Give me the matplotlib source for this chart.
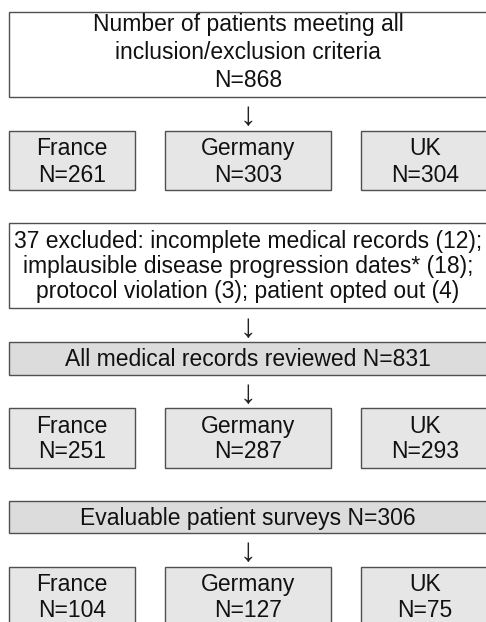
import matplotlib
matplotlib.use("Agg")
import matplotlib.pyplot as plt
from matplotlib.patches import Rectangle

plt.rcParams['font.family'] = ['Liberation Sans', 'DejaVu Sans']

countries = ["France", "Germany", "UK"]
n_screened = [261, 303, 304]
n_reviewed = [251, 287, 293]
n_surveys = [104, 127, 75]
total_included = 868
total_reviewed = 831
total_surveys = 306
top_lines = ["Number of patients meeting all", "inclusion/exclusion criteria", f"N={total_included}"]
excl_lines = ["37 excluded: incomplete medical records (12);",
              "implausible disease progression dates* (18);",
              "protocol violation (3); patient opted out (4)"]

W, H = 486, 622
fig = plt.figure(figsize=(W / 100, H / 100), dpi=100)
ax = fig.add_axes([0, 0, 1, 1])
ax.set_xlim(0, W)
ax.set_ylim(H, 0)
ax.axis("off")

EDGE = "#505050"
LW = 1.0
FS = 16.5
CAP = 7.9  # half cap height in px

def box(x0, y0, x1, y1, fc):
    ax.add_patch(Rectangle((x0, y0), x1 - x0, y1 - y0, facecolor=fc,
                           edgecolor=EDGE, linewidth=LW))

def txt(x, yc, s, fs=FS):
    ax.text(x, yc + CAP, s, ha="center", va="baseline", fontsize=fs, color="#111111")

def arrow(yc):
    ax.text(248, yc, "\u2193", ha="center", va="center", fontsize=24, color="#222222")

# Top box
box(9, 12, 492, 97, "white")
for line, yc in zip(top_lines, [23, 51, 79.5]):
    txt(248, yc, line)
arrow(116)

cols = [(9, 135), (165, 331), (361, 492)]
centers = [72, 248, 425]

def country_row(y0, y1, yl1, yl2, values):
    for (x0, x1), c, name, v in zip(cols, centers, countries, values):
        box(x0, y0, x1, y1, "#e6e6e6")
        txt(c, yl1, name)
        txt(c, yl2, f"N={v}")

country_row(131, 190, 147.5, 174.5, n_screened)

# Exclusion box
box(9, 223, 492, 308, "white")
for line, yc in zip(excl_lines, [240, 265, 290]):
    txt(248, yc, line)
arrow(329)

box(9, 342, 492, 375, "#dcdcdc")
txt(248, 358, f"All medical records reviewed N={total_reviewed}")
arrow(394)

country_row(408, 468, 425, 450, n_reviewed)

box(9, 501, 492, 533, "#dcdcdc")
txt(248, 517, f"Evaluable patient surveys N={total_surveys}")
arrow(553)

country_row(567, 640, 583, 609, n_surveys)

fig.savefig("out.png", dpi=100)
